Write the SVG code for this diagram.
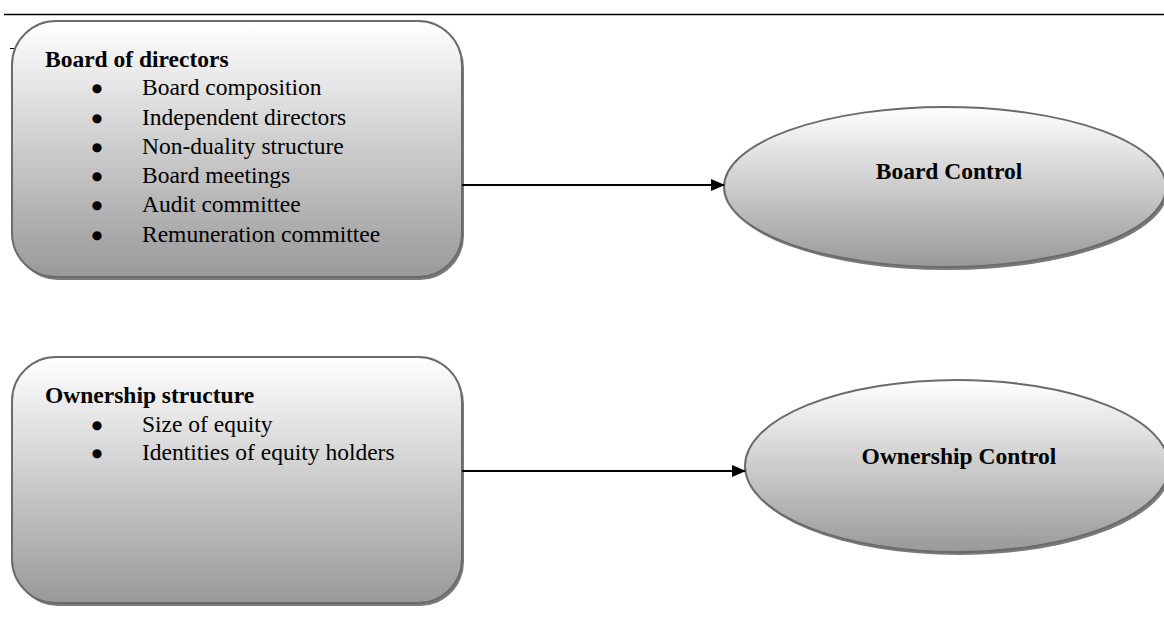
<svg xmlns="http://www.w3.org/2000/svg" width="1164" height="623" viewBox="0 0 1164 623">
<style>
.box{stroke:#6b6b6b;stroke-width:2;fill:url(#g)}
.shadow{fill:#7a7a7a}
.t{font-family:"Liberation Serif",serif;font-size:23.5px;fill:#000}
.b{font-weight:bold}
.bul{font-family:"DejaVu Sans",sans-serif;font-size:12px;fill:#000;text-anchor:middle}
.conn{stroke:#000;stroke-width:2;fill:none;marker-end:url(#arr)}
</style>
<defs>
<linearGradient id="g" x1="0" y1="0" x2="0" y2="1">
<stop offset="0" stop-color="#ffffff"/>
<stop offset="1" stop-color="#999999"/>
</linearGradient>
<marker id="arr" markerWidth="14" markerHeight="12" refX="13" refY="6" orient="auto" markerUnits="userSpaceOnUse">
<path d="M0,0 L14,6 L0,12 Z" fill="#000"/>
</marker>
</defs>
<line x1="4" y1="14.5" x2="1164" y2="14.5" stroke="#000" stroke-width="1.5"/>
<line x1="10" y1="48.5" x2="16" y2="48.5" stroke="#000" stroke-width="1"/>
<g id="board">
<rect x="14" y="24" width="450" height="256" rx="44" class="shadow"/>
<rect x="12" y="21" width="450" height="256" rx="44" class="box"/>
<text x="45" y="67" class="t b">Board of directors</text>
<g class="bul">
<text x="97" y="92">●</text>
<text x="97" y="122">●</text>
<text x="97" y="151">●</text>
<text x="97" y="180">●</text>
<text x="97" y="209">●</text>
<text x="97" y="239">●</text>
</g>
<g class="t">
<text x="142" y="95">Board composition</text>
<text x="142" y="125">Independent directors</text>
<text x="142" y="154">Non-duality structure</text>
<text x="142" y="183">Board meetings</text>
<text x="142" y="212">Audit committee</text>
<text x="142" y="242">Remuneration committee</text>
</g>
</g>
<g id="boardControl">
<ellipse cx="947" cy="190" rx="221" ry="80" class="shadow"/>
<ellipse cx="945" cy="187" rx="221" ry="80" class="box"/>
<text x="949" y="179" class="t b" text-anchor="middle">Board Control</text>
</g>
<g id="ownership">
<rect x="14" y="360" width="450" height="246" rx="44" class="shadow"/>
<rect x="12" y="357" width="450" height="246" rx="44" class="box"/>
<text x="45" y="403" class="t b">Ownership structure</text>
<g class="bul">
<text x="97" y="429">●</text>
<text x="97" y="457">●</text>
</g>
<g class="t">
<text x="142" y="432">Size of equity</text>
<text x="142" y="460">Identities of equity holders</text>
</g>
</g>
<g id="ownershipControl">
<ellipse cx="959" cy="469" rx="212" ry="86" class="shadow"/>
<ellipse cx="957" cy="466" rx="212" ry="86" class="box"/>
<text x="959" y="464" class="t b" text-anchor="middle">Ownership Control</text>
</g>
<g id="connectors">
<line x1="462" y1="185" x2="724" y2="185" class="conn"/>
<line x1="462" y1="471" x2="745" y2="471" class="conn"/>
</g>
</svg>
